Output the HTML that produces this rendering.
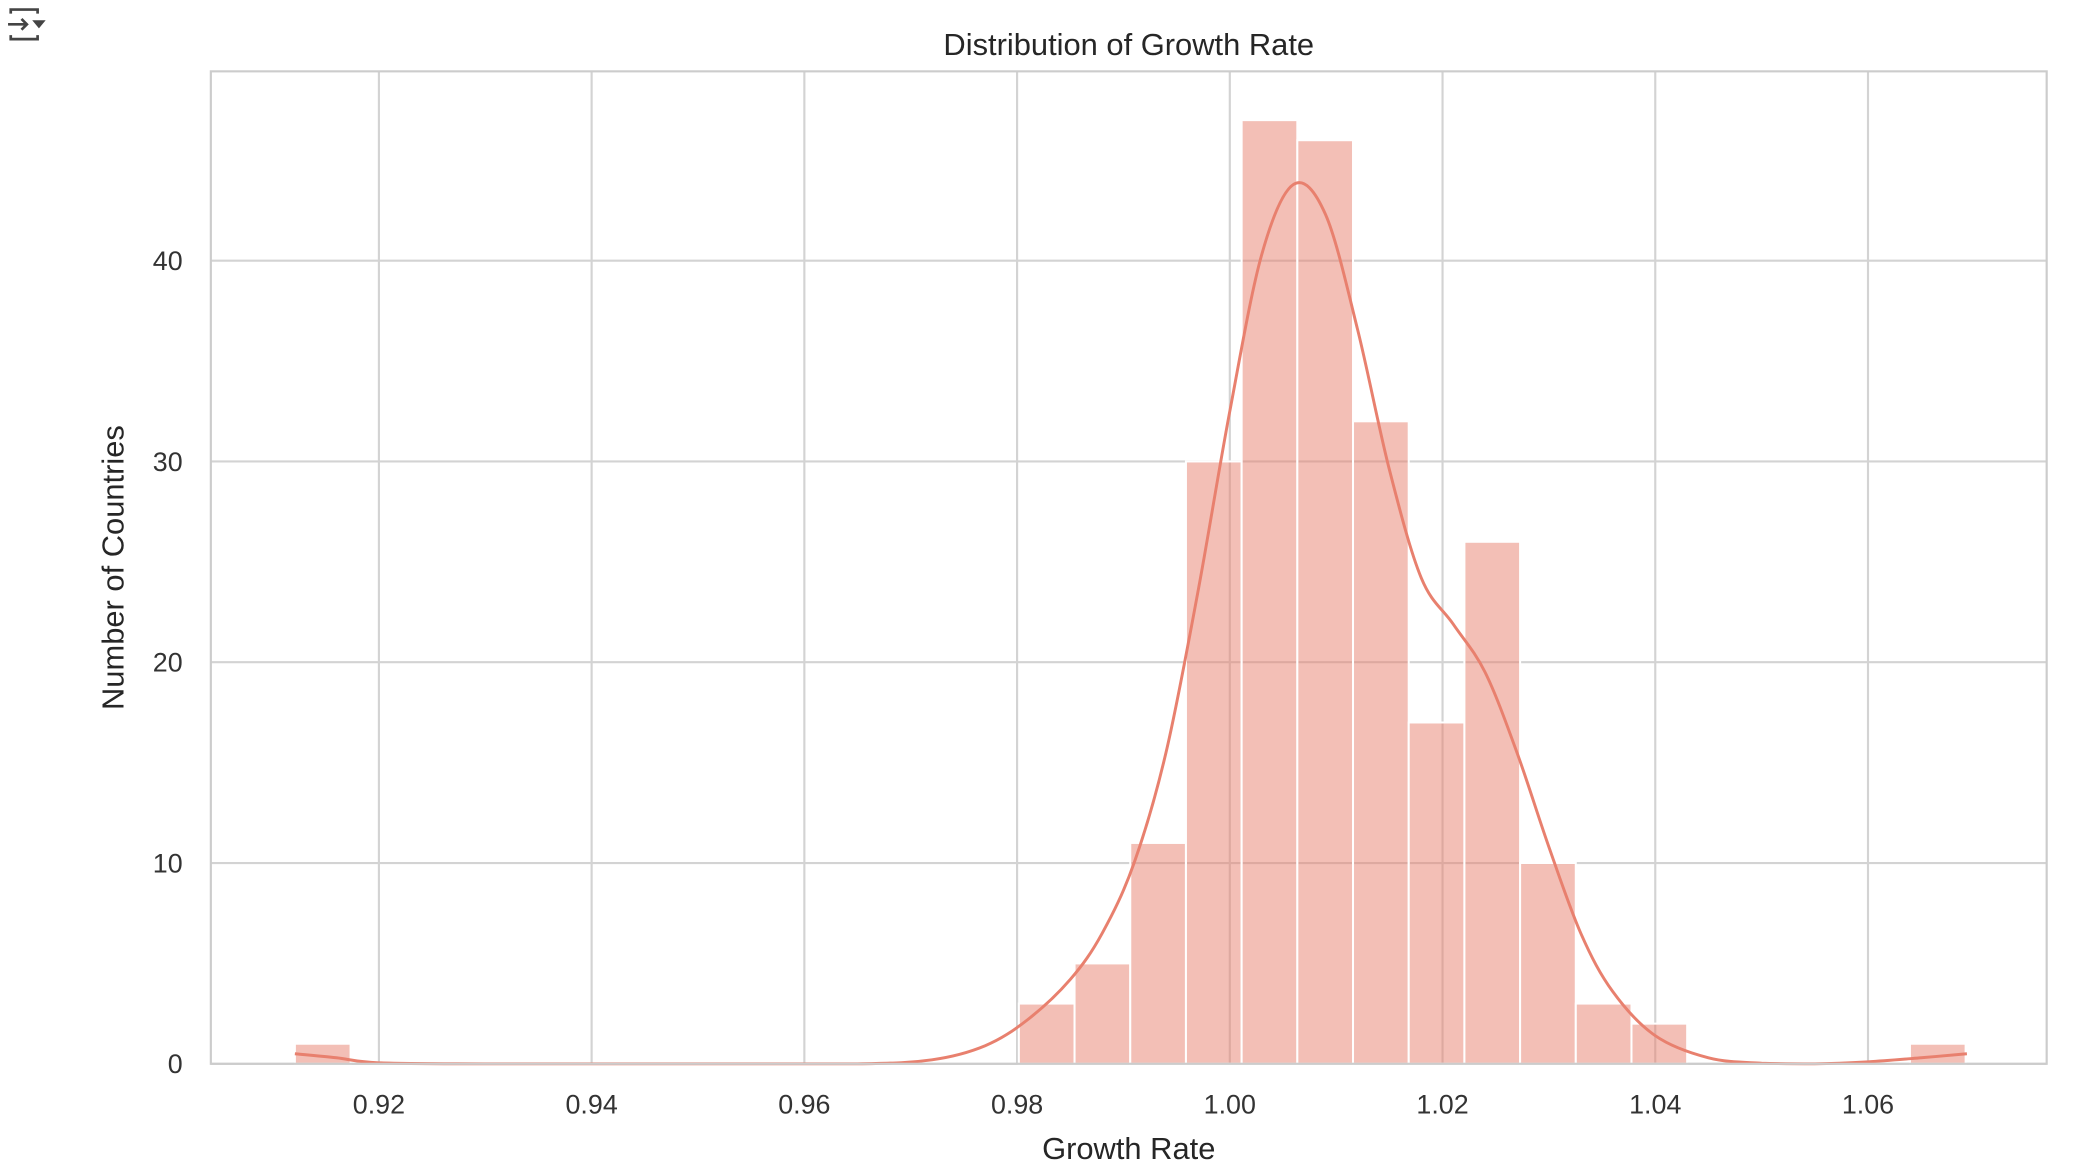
<!DOCTYPE html>
<html><head><meta charset="utf-8"><style>
html,body{margin:0;padding:0;background:#fff;}
svg{display:block;font-family:"Liberation Sans","DejaVu Sans",sans-serif;}
</style></head><body>
<svg id="chart" width="2082" height="1162" viewBox="0 0 1550.3 865" xmlns="http://www.w3.org/2000/svg">
<g stroke="#444" stroke-width="2" fill="none">
<path d="M8 10 v-3 h20 v3 M8 26 v3 h20 v-3"/><path d="M6 18 h14 M16 14 l4 4 l-4 4"/><path d="M24 15 h10 l-5 6z" fill="#444" stroke="none"/>
</g>
<g id="grid"></g>
<g id="bars"></g>
<path id="kde" fill="none" stroke="#e8806e" stroke-width="2.2"/>
<rect x="157" y="53" width="1367" height="739" fill="none" stroke="#cccccc" stroke-width="1.6"/>
<g id="ticks" fill="#333" font-size="20"></g>
<text x="840.5" y="41" text-anchor="middle" font-size="23" fill="#262626">Distribution of Growth Rate</text>
<text x="840.5" y="863" text-anchor="middle" font-size="23" fill="#262626">Growth Rate</text>
<text transform="translate(92,422.5) rotate(-90)" text-anchor="middle" font-size="23" fill="#262626">Number of Countries</text>
</svg>
<script>
const binStart = 0.9121;
const binWidth = 0.005236;
const binCounts = [1,0,0,0,0,0,0,0,0,0,0,0,0,3,5,11,30,47,46,32,17,26,10,3,2,0,0,0,0,1];
const kdeX = [0.9121,0.916,0.92,0.93,0.95,0.965,0.972,0.977,0.981,0.985,0.988,0.991,0.994,0.997,1.0,1.003,1.006,1.009,1.012,1.015,1.018,1.021,1.024,1.027,1.030,1.033,1.036,1.040,1.045,1.050,1.055,1.060,1.065,1.0693];
const kdeY = [0.5,0.3,0.05,0,0,0,0.2,0.9,2.2,4.2,6.5,10.0,15.5,23.5,32.5,40.3,43.8,42.3,36.6,29.6,24.2,21.9,19.5,15.5,10.8,6.5,3.6,1.4,0.3,0.03,0,0.1,0.3,0.5];
const xTicks = [0.92,0.94,0.96,0.98,1.00,1.02,1.04,1.06];
const yTicks = [0,10,20,30,40];
const L=157,R=1524,T=53,B=792,xmin=0.9042,xmax=1.0768,ymin=0,ymax=49.43;
const sx=v=>L+(v-xmin)/(xmax-xmin)*(R-L);
const sy=v=>B-(v-ymin)/(ymax-ymin)*(B-T);
const NS='http://www.w3.org/2000/svg';
const grid=document.getElementById('grid'),bars=document.getElementById('bars'),ticks=document.getElementById('ticks');
function mk(t,a){const e=document.createElementNS(NS,t);for(const k in a)e.setAttribute(k,a[k]);return e;}
xTicks.forEach(v=>{
  const l=mk('line',{x1:sx(v),x2:sx(v),y1:T,y2:B,stroke:'#d3d3d3','stroke-width':1.6});
  
  
  grid.appendChild(l);
  const t=mk('text',{x:sx(v),y:829,'text-anchor':'middle'});t.textContent=v.toFixed(2);
  
  
  ticks.appendChild(t);
});
yTicks.forEach(v=>{
  const l=mk('line',{x1:L,x2:R,y1:sy(v),y2:sy(v),stroke:'#d3d3d3','stroke-width':1.6});
  
  
  grid.appendChild(l);
  const t=mk('text',{x:136,y:sy(v)+7,'text-anchor':'end'});t.textContent=v;
  
  
  ticks.appendChild(t);
});
binCounts.forEach((c,i)=>{
  if(!c)return;
  const x0=sx(binStart+i*binWidth),x1=sx(binStart+(i+1)*binWidth);
  const r=mk('rect',{x:x0,y:sy(c),width:x1-x0,height:sy(0)-sy(c),fill:'#e8806e','fill-opacity':0.5,stroke:'#fff','stroke-width':1.5});
  
  
  bars.appendChild(r);
});
let d='';
const px=kdeX.map(sx),py=kdeY.map(sy);
for(let i=0;i<px.length;i++){
  if(i===0){d+='M'+px[0]+' '+py[0];continue;}
  const p0=[px[Math.max(0,i-2)],py[Math.max(0,i-2)]],p1=[px[i-1],py[i-1]],p2=[px[i],py[i]],p3=[px[Math.min(px.length-1,i+1)],py[Math.min(px.length-1,i+1)]];
  const c1=[p1[0]+(p2[0]-p0[0])/6,p1[1]+(p2[1]-p0[1])/6],c2=[p2[0]-(p3[0]-p1[0])/6,p2[1]-(p3[1]-p1[1])/6];
  d+=` C${c1[0]} ${Math.min(c1[1],B)} ${c2[0]} ${Math.min(c2[1],B)} ${p2[0]} ${p2[1]}`;
}
document.getElementById('kde').setAttribute('d',d);
</script>
</body></html>
